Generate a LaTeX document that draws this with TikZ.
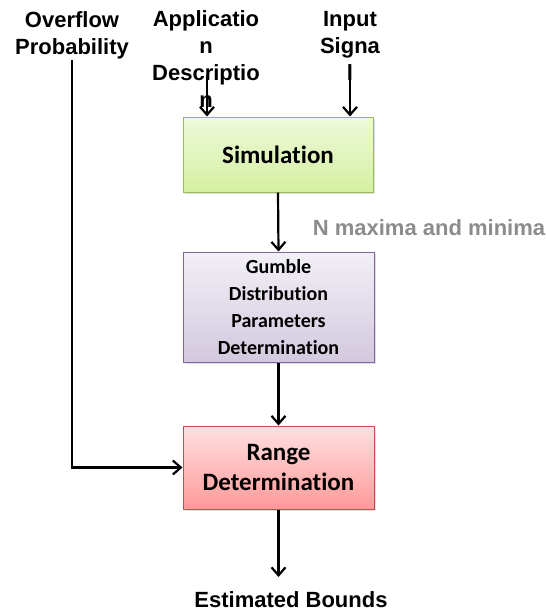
\documentclass[tikz,border=0pt]{standalone}
\usepackage{fontspec}
\setmainfont{Liberation Sans}
\newfontfamily\boxfont[Ligatures={NoCommon}]{Carlito}
\usetikzlibrary{arrows.meta,shadows}

\definecolor{simline}{HTML}{9BBB59}
\definecolor{simtop}{HTML}{EEF9DA}
\definecolor{simbot}{HTML}{D5F0A2}
\definecolor{gumline}{HTML}{8064A2}
\definecolor{rngline}{HTML}{C0504D}

\tikzstyle{lbl} = [text centered, inner sep=0pt, align=center, font=\bfseries\fontsize{22}{27}\selectfont]
\tikzstyle{blk} = [rectangle, draw, line width=1pt, inner sep=0pt, align=center,
  drop shadow={opacity=0.25, shadow xshift=1.5pt, shadow yshift=-1.5pt}]

\begin{document}
\begin{tikzpicture}[x=1pt, y=-1pt,
>={Straight Barb[length=8pt,width=14pt]},
line width=2.2pt,
]
\useasboundingbox (0,0) rectangle (546,613);

% inputs
\node[lbl] (ovf) at (72,35) {Overflow\\Probability};
\node[lbl] (app) at (206,59) {Applicatio\\n\\Descriptio\\n};
\node[lbl] (inp) at (350,46) {Input\\Signa\\l};

%SIMULATION
\node[blk, draw=simline, top color=simtop, bottom color=simbot,
  minimum width=190pt, minimum height=75pt, font=\boxfont\bfseries\fontsize{25}{30}\selectfont]
  (sim) at (278,154.5) {Simulation};

%GUMBLE
\node[blk, draw=gumline, top color=gumline!10!white, bottom color=gumline!35!white,
  minimum width=191pt, minimum height=110pt, font=\boxfont\bfseries\fontsize{20}{27}\selectfont]
  (gum) at (278.5,307) {Gumble\\Distribution\\Parameters\\Determination};

%RANGE
\node[blk, draw=rngline, top color=red!12!white, bottom color=red!40!white,
  minimum width=191pt, minimum height=83pt, font=\boxfont\bfseries\fontsize{25}{30}\selectfont]
  (rng) at (278.5,467.5) {Range\\Determination};

% outputs
\node[lbl, text=black!45] (nmax) at (429,228) {N maxima and minima};
\node[lbl] (est) at (291,600) {Estimated Bounds};

\coordinate (appin) at (207,75);
\coordinate (inpin) at (350,80);
\coordinate (estin) at (280,577);

\draw[->] (appin) -- (appin |- sim.north);
\draw[->] (inpin) -- (inpin |- sim.north);
\draw[->] (sim.south) -- (gum.north);
\draw[->] (gum.south) -- (rng.north);
\draw[->] (ovf.south) |- (rng.west);
\draw[->] (rng.south) -- (rng.south |- estin);

\end{tikzpicture}
\end{document}
